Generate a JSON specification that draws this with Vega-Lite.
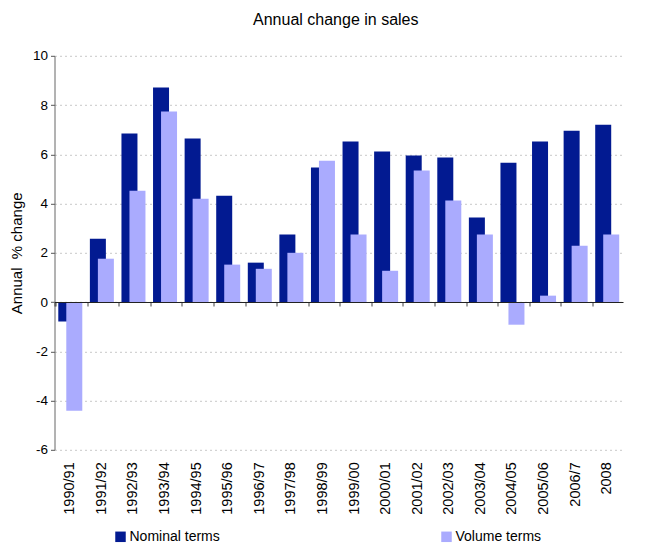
{
  "$schema": "https://vega.github.io/schema/vega-lite/v6.json",
  "width": 568.5,
  "height": 394,
  "autosize": "none",
  "padding": {"left": 54.5, "top": 55.8, "right": 41, "bottom": 95.2},
  "background": "white",
  "title": {
    "text": "Annual change in sales",
    "font": "Liberation Sans",
    "fontSize": 16,
    "fontWeight": "normal",
    "color": "black",
    "anchor": "middle",
    "frame": "group",
    "baseline": "alphabetic",
    "offset": 29,
    "dx": -3,
    "dy": 21
  },
  "config": {
    "view": {"stroke": null},
    "axis": {"labelColor": "black", "titleColor": "black"}
  },
  "data": {
    "values": [
      {"year": "1990/91", "series": "Nominal terms", "value": -0.79},
      {"year": "1990/91", "series": "Volume terms", "value": -4.41},
      {"year": "1991/92", "series": "Nominal terms", "value": 2.57},
      {"year": "1991/92", "series": "Volume terms", "value": 1.76},
      {"year": "1992/93", "series": "Nominal terms", "value": 6.84},
      {"year": "1992/93", "series": "Volume terms", "value": 4.52},
      {"year": "1993/94", "series": "Nominal terms", "value": 8.71},
      {"year": "1993/94", "series": "Volume terms", "value": 7.74},
      {"year": "1994/95", "series": "Nominal terms", "value": 6.64},
      {"year": "1994/95", "series": "Volume terms", "value": 4.2},
      {"year": "1995/96", "series": "Nominal terms", "value": 4.32},
      {"year": "1995/96", "series": "Volume terms", "value": 1.52},
      {"year": "1996/97", "series": "Nominal terms", "value": 1.6},
      {"year": "1996/97", "series": "Volume terms", "value": 1.35},
      {"year": "1997/98", "series": "Nominal terms", "value": 2.74},
      {"year": "1997/98", "series": "Volume terms", "value": 2.0},
      {"year": "1998/99", "series": "Nominal terms", "value": 5.46},
      {"year": "1998/99", "series": "Volume terms", "value": 5.74},
      {"year": "1999/00", "series": "Nominal terms", "value": 6.52},
      {"year": "1999/00", "series": "Volume terms", "value": 2.74},
      {"year": "2000/01", "series": "Nominal terms", "value": 6.11},
      {"year": "2000/01", "series": "Volume terms", "value": 1.27},
      {"year": "2001/02", "series": "Nominal terms", "value": 5.95},
      {"year": "2001/02", "series": "Volume terms", "value": 5.34},
      {"year": "2002/03", "series": "Nominal terms", "value": 5.87},
      {"year": "2002/03", "series": "Volume terms", "value": 4.12},
      {"year": "2003/04", "series": "Nominal terms", "value": 3.43},
      {"year": "2003/04", "series": "Volume terms", "value": 2.74},
      {"year": "2004/05", "series": "Nominal terms", "value": 5.66},
      {"year": "2004/05", "series": "Volume terms", "value": -0.92},
      {"year": "2005/06", "series": "Nominal terms", "value": 6.52},
      {"year": "2005/06", "series": "Volume terms", "value": 0.26},
      {"year": "2006/7", "series": "Nominal terms", "value": 6.96},
      {"year": "2006/7", "series": "Volume terms", "value": 2.29},
      {"year": "2008", "series": "Nominal terms", "value": 7.2},
      {"year": "2008", "series": "Volume terms", "value": 2.74}
    ]
  },
  "encoding": {
    "y": {
      "field": "value",
      "type": "quantitative",
      "scale": {"domain": [-6, 10], "nice": false, "zero": false},
      "axis": {
        "title": "Annual\u00a0 % change",
        "titleFont": "Liberation Sans",
        "titleFontSize": 15,
        "titleFontWeight": "normal",
        "titlePadding": 8,
        "values": [-6, -4, -2, 0, 2, 4, 6, 8, 10],
        "labelExpr": "toString(datum.value)",
        "labelFont": "Liberation Sans",
        "labelFontSize": 13.5,
        "labelPadding": 3,
        "tickSize": 4,
        "tickColor": "#555555",
        "domainColor": "#666666",
        "grid": true,
        "gridColor": "#c8c8c8",
        "gridDash": [2, 3],
        "gridWidth": 1
      }
    },
    "color": {
      "field": "series",
      "type": "nominal",
      "scale": {"domain": ["Nominal terms", "Volume terms"], "range": ["#021A91", "#AAABFE"]},
      "legend": {
        "title": null,
        "orient": "none",
        "direction": "horizontal",
        "legendX": 59,
        "legendY": 474,
        "padding": 0,
        "symbolType": "square",
        "symbolSize": 110,
        "symbolStrokeWidth": 0,
        "symbolOpacity": 1,
        "labelFont": "Liberation Sans",
        "labelFontSize": 14,
        "labelColor": "black",
        "labelOffset": 2,
        "columnPadding": 219
      }
    }
  },
  "layer": [
    {
      "transform": [{"filter": "datum.series === 'Nominal terms'"}],
      "mark": {"type": "bar", "width": 16, "xOffset": -4},
      "encoding": {
        "x": {
          "field": "year",
          "type": "nominal",
          "sort": null,
          "title": null,
          "axis": {
            "orient": "bottom",
            "labelAngle": 270,
            "labelFont": "Liberation Sans",
            "labelFontSize": 14.5,
            "labelPadding": 12,
            "domain": false,
            "ticks": false,
            "grid": false
          }
        }
      }
    },
    {
      "transform": [{"filter": "datum.series === 'Volume terms'"}],
      "mark": {"type": "bar", "width": 16, "xOffset": 4},
      "encoding": {
        "x": {
          "field": "year",
          "type": "nominal",
          "sort": null,
          "title": null,
          "axis": {
            "orient": "top",
            "offset": -246.2,
            "labels": false,
            "domain": true,
            "domainColor": "#222222",
            "ticks": true,
            "bandPosition": 0,
            "tickExtra": true,
            "tickSize": -4,
            "tickColor": "#444444",
            "grid": false,
            "zindex": 2
          }
        }
      }
    }
  ],
  "resolve": {"axis": {"x": "independent"}}
}
